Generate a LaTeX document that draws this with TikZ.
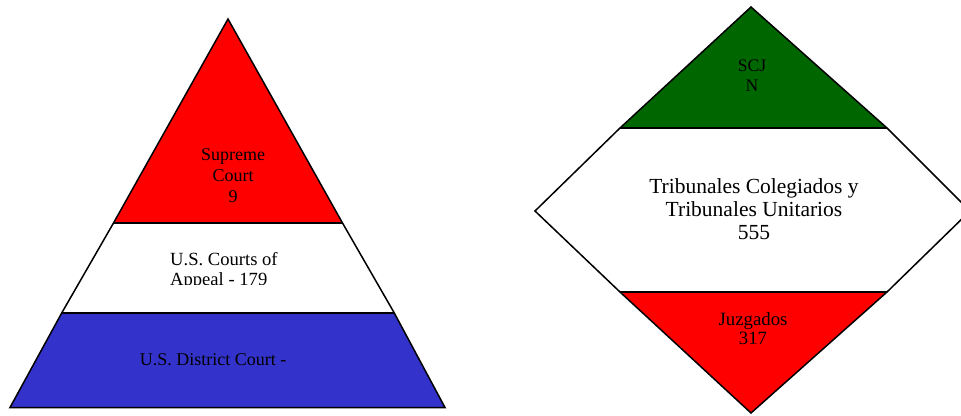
\documentclass[tikz,border=0pt]{standalone}
\usepackage{fontspec}
\setmainfont{Liberation Serif}
\usepackage{xcolor}
\definecolor{courtred}{HTML}{FF0000}
\definecolor{courtblue}{HTML}{3333CC}
\definecolor{courtgreen}{HTML}{006600}
\begin{document}
\begin{tikzpicture}[x=1pt, y=-1pt, band/.style={draw=black, line width=1.5pt, line join=miter}, split/.style={draw=black, line width=2pt}, every node/.style={font=\fontsize{18}{21}\selectfont, inner sep=0pt, align=center, anchor=base}]
  \useasboundingbox (0,0) rectangle (961,415);
  % left pyramid
  \fill[courtred] (228,19) -- (342.5,223) -- (113.5,223) -- cycle;
  \fill[white] (113.5,223) -- (342.5,223) -- (394,312.5) -- (62,312.5) -- cycle;
  \fill[courtblue] (62,312.5) -- (394,312.5) -- (445,407.5) -- (10,407.5) -- cycle;
  \draw[band] (228,19) -- (342.5,223) -- (394,312.5) -- (445,407.5) -- (10,407.5) -- (62,312.5) -- (113.5,223) -- cycle;
  \draw[split] (113.5,223) -- (342.5,223);
  \draw[split] (62,312.5) -- (394,312.5);
  \node (supreme) at (233,202.5) {Supreme\\Court\\9};
  \begin{scope}
    \clip (62,224) rectangle (394,284);
    \node[align=left, anchor=base west, font=\fontsize{18.6}{20}\selectfont] (appeals) at (170,285) {U.S. Courts of\\Appeal - 179};
  \end{scope}
  \node (district) at (213,365) {U.S. District Court -};
  % right diamond
  \fill[courtgreen] (751,7) -- (887,128) -- (620,128) -- cycle;
  \fill[white] (620,128) -- (887,128) -- (970,211) -- (887,292) -- (620,292) -- (535,211) -- cycle;
  \fill[courtred] (620,292) -- (887,292) -- (751,413) -- cycle;
  \draw[band] (751,7) -- (887,128) -- (970,211) -- (887,292) -- (751,413) -- (620,292) -- (535,211) -- (620,128) -- cycle;
  \draw[split] (620,128) -- (887,128);
  \draw[split] (620,292) -- (887,292);
  \node[font=\fontsize{17.6}{20}\selectfont] (scjn) at (752,91.7) {SCJ\\N};
  \node[font=\fontsize{21.5}{23}\selectfont] (tribunales) at (754,239) {Tribunales Colegiados y\\Tribunales Unitarios\\555};
  \node[font=\fontsize{18.8}{18.8}\selectfont] (juzgados) at (753,344.3) {Juzgados\\317};
\end{tikzpicture}
\end{document}
